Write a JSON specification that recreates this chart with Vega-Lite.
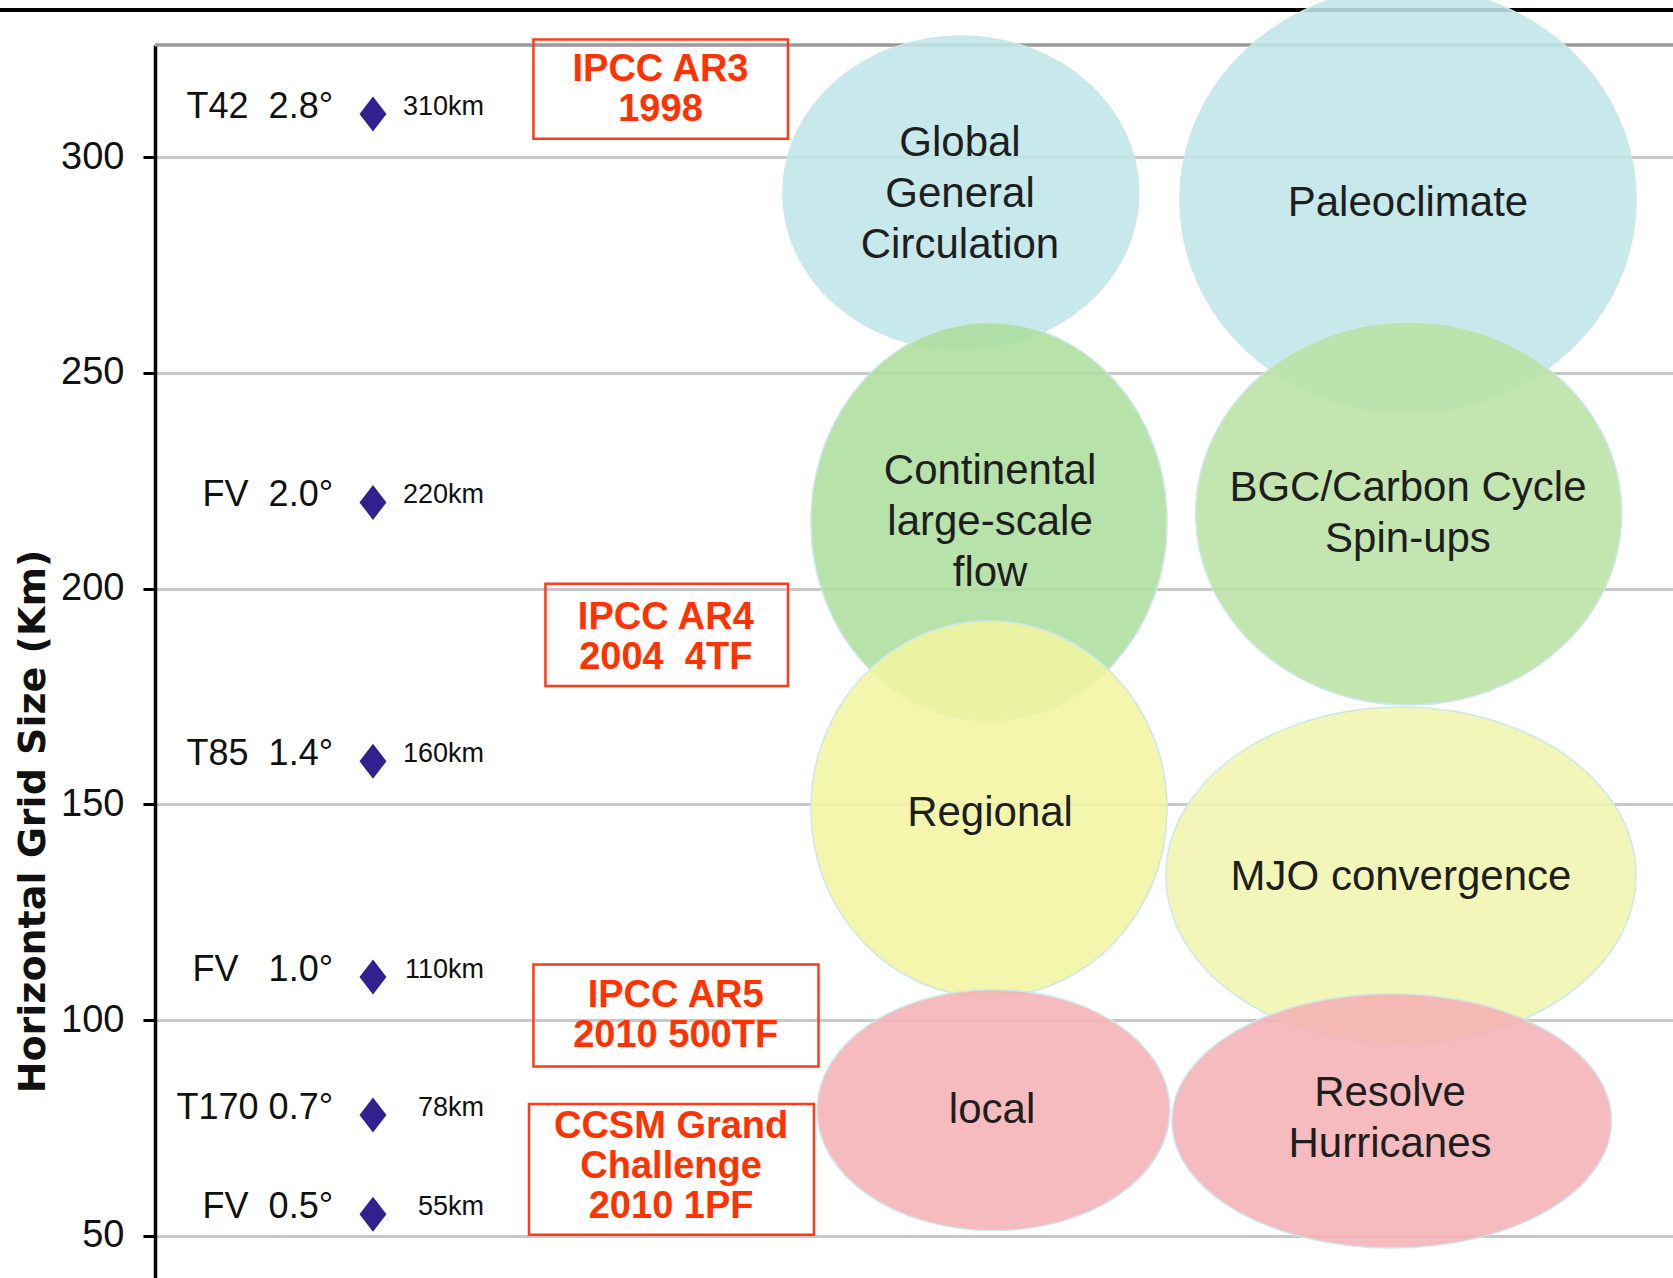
{
  "$schema": "https://vega.github.io/schema/vega-lite/v6.json",
  "width": 1518,
  "height": 1233,
  "autosize": {"type": "none"},
  "padding": {"left": 155, "top": 45, "right": 0, "bottom": 0},
  "background": "white",
  "config": {
    "view": {"stroke": null},
    "axisY": {
      "domainColor": "#000000",
      "domainWidth": 3.5,
      "tickColor": "#000000",
      "tickWidth": 3,
      "tickSize": 12,
      "labelFont": "Liberation Sans, Arial, sans-serif",
      "labelFontSize": 38,
      "labelColor": "#111111",
      "labelPadding": 19,
      "gridColor": "#c8c8c8",
      "gridWidth": 3,
      "titleFont": "DejaVu Sans",
      "titleFontWeight": "bold",
      "titleFontSize": 38,
      "titleColor": "#111111",
      "titleAngle": 270,
      "titleAlign": "center",
      "titleBaseline": "middle",
      "titleX": -122,
      "titleY": 776
    }
  },
  "datasets": {
    "models": [
      {"grid": "T42\u00a0 2.8°", "km": 310, "kmText": "310km"},
      {"grid": "FV\u00a0 2.0°", "km": 220, "kmText": "220km"},
      {"grid": "T85\u00a0 1.4°", "km": 160, "kmText": "160km"},
      {"grid": "FV\u00a0\u00a0 1.0°", "km": 110, "kmText": "110km"},
      {"grid": "T170 0.7°", "km": 78, "kmText": "78km"},
      {"grid": "FV\u00a0 0.5°", "km": 55, "kmText": "55km"},
      {"grid": "T340 .36°", "km": 30, "kmText": "30km"}
    ],
    "milestones": [
      {"label": "IPCC AR3\n1998", "x0": 24.93, "x1": 41.70, "kmTop": 327.25, "kmBottom": 304.26, "xMid": 33.30, "kmMid": 315.6},
      {"label": "IPCC AR4\n2004\u00a0 4TF", "x0": 25.72, "x1": 41.70, "kmTop": 201.16, "kmBottom": 177.45, "xMid": 33.65, "kmMid": 188.6},
      {"label": "IPCC AR5\n2010 500TF", "x0": 24.93, "x1": 43.71, "kmTop": 112.91, "kmBottom": 89.27, "xMid": 34.30, "kmMid": 100.9},
      {"label": "CCSM Grand\nChallenge\n2010 1PF", "x0": 24.64, "x1": 43.41, "kmTop": 80.58, "kmBottom": 50.29, "xMid": 34.00, "kmMid": 66.0}
    ],
    "zones": [
      {"zone": "Global General Circulation", "label": "Global\nGeneral\nCirculation", "xMid": 53.03, "kmMid": 291.5},
      {"zone": "Paleoclimate", "label": "Paleoclimate", "xMid": 82.54, "kmMid": 289.4},
      {"zone": "Continental large-scale flow", "label": "Continental\nlarge-scale\nflow", "xMid": 55.01, "kmMid": 215.5},
      {"zone": "BGC/Carbon Cycle Spin-ups", "label": "BGC/Carbon Cycle\nSpin-ups", "xMid": 82.54, "kmMid": 217.5},
      {"zone": "Regional", "label": "Regional", "xMid": 55.01, "kmMid": 148.0},
      {"zone": "MJO convergence", "label": "MJO convergence", "xMid": 82.08, "kmMid": 133.2},
      {"zone": "local", "label": "local", "xMid": 55.14, "kmMid": 79.3},
      {"zone": "Resolve Hurricanes", "label": "Resolve\nHurricanes", "xMid": 81.36, "kmMid": 77.3}
    ],
    "outlines": [
      {"zone": "Global General Circulation", "k": 1, "x": 41.36, "km": 291.71},
      {"zone": "Global General Circulation", "k": 2, "x": 53.09, "km": 328.09},
      {"zone": "Global General Circulation", "k": 3, "x": 64.81, "km": 291.71},
      {"zone": "Global General Circulation", "k": 4, "x": 53.09, "km": 255.32},
      {"zone": "Paleoclimate", "k": 1, "x": 67.52, "km": 290.08},
      {"zone": "Paleoclimate", "k": 2, "x": 82.54, "km": 339.44},
      {"zone": "Paleoclimate", "k": 3, "x": 97.56, "km": 290.08},
      {"zone": "Paleoclimate", "k": 4, "x": 82.54, "km": 240.72},
      {"zone": "Continental large-scale flow", "k": 1, "x": 43.21, "km": 215.53},
      {"zone": "Continental large-scale flow", "k": 2, "x": 54.94, "km": 261.71},
      {"zone": "Continental large-scale flow", "k": 3, "x": 66.67, "km": 215.53},
      {"zone": "Continental large-scale flow", "k": 4, "x": 54.94, "km": 169.34},
      {"zone": "BGC/Carbon Cycle Spin-ups", "k": 1, "x": 68.56, "km": 217.43},
      {"zone": "BGC/Carbon Cycle Spin-ups", "k": 2, "x": 82.59, "km": 261.81},
      {"zone": "BGC/Carbon Cycle Spin-ups", "k": 3, "x": 96.62, "km": 217.43},
      {"zone": "BGC/Carbon Cycle Spin-ups", "k": 4, "x": 82.59, "km": 173.05},
      {"zone": "Regional", "k": 1, "x": 43.21, "km": 148.94},
      {"zone": "Regional", "k": 2, "x": 54.94, "km": 192.51},
      {"zone": "Regional", "k": 3, "x": 66.67, "km": 148.94},
      {"zone": "Regional", "k": 4, "x": 54.94, "km": 105.37},
      {"zone": "MJO convergence", "k": 1, "x": 66.60, "km": 133.53},
      {"zone": "MJO convergence", "k": 2, "x": 82.08, "km": 172.58},
      {"zone": "MJO convergence", "k": 3, "x": 97.56, "km": 133.53},
      {"zone": "MJO convergence", "k": 4, "x": 82.08, "km": 94.48},
      {"zone": "local", "k": 1, "x": 43.61, "km": 79.16},
      {"zone": "local", "k": 2, "x": 55.24, "km": 107.07},
      {"zone": "local", "k": 3, "x": 66.86, "km": 79.16},
      {"zone": "local", "k": 4, "x": 55.24, "km": 51.24},
      {"zone": "Resolve Hurricanes", "k": 1, "x": 66.99, "km": 76.68},
      {"zone": "Resolve Hurricanes", "k": 2, "x": 81.47, "km": 106.15},
      {"zone": "Resolve Hurricanes", "k": 3, "x": 95.95, "km": 76.68},
      {"zone": "Resolve Hurricanes", "k": 4, "x": 81.47, "km": 47.21}
    ]
  },
  "layer": [
    {
      "data": {"values": [{}]},
      "mark": {"type": "rule", "color": "#000000", "strokeWidth": 4},
      "encoding": {
        "x": {"datum": -10.21, "type": "quantitative", "scale": {"domain": [0, 100], "nice": false, "zero": false}, "axis": null},
        "x2": {"datum": 100},
        "y": {
          "datum": 334.1,
          "type": "quantitative",
          "scale": {"domain": [40.25, 326], "nice": false, "zero": false},
          "axis": {"title": "Horizontal Grid Size (Km)", "values": [50, 100, 150, 200, 250, 300], "grid": true}
        }
      }
    },
    {
      "data": {"values": [{}]},
      "mark": {"type": "rule", "color": "#9a9a9a", "strokeWidth": 3.5},
      "encoding": {
        "y": {"datum": 326, "type": "quantitative", "scale": {"domain": [40.25, 326], "nice": false, "zero": false}}
      }
    },
    {
      "data": {"name": "outlines"},
      "mark": {
        "type": "line",
        "interpolate": "cardinal-closed",
        "tension": -0.657,
        "filled": true,
        "fillOpacity": 0.88,
        "stroke": "#cde7ea",
        "strokeWidth": 1.5
      },
      "encoding": {
        "x": {"field": "x", "type": "quantitative", "scale": {"domain": [0, 100], "nice": false, "zero": false}, "axis": null},
        "y": {"field": "km", "type": "quantitative", "scale": {"domain": [40.25, 326], "nice": false, "zero": false}},
        "order": {"field": "k", "type": "quantitative"},
        "color": {
          "field": "zone",
          "type": "nominal",
          "scale": {
            "domain": ["Global General Circulation", "Paleoclimate", "Continental large-scale flow", "BGC/Carbon Cycle Spin-ups", "Regional", "MJO convergence", "local", "Resolve Hurricanes"],
            "range": ["#bfe6e8", "#bfe6e8", "#adde9e", "#bbe1a5", "#f1f5a0", "#f1f5af", "#f5b2b5", "#f5b2b5"]
          },
          "legend": null
        }
      }
    },
    {
      "data": {"name": "zones"},
      "mark": {
        "type": "text",
        "font": "Liberation Sans, Arial, sans-serif",
        "fontSize": 42,
        "lineHeight": 51,
        "lineBreak": "\n",
        "align": "center",
        "baseline": "middle",
        "dy": {"expr": "-(length(split(datum.label, '\\n')) - 1) * 25.5"},
        "color": "#1e1e1e"
      },
      "encoding": {
        "x": {"field": "xMid", "type": "quantitative", "scale": {"domain": [0, 100], "nice": false, "zero": false}, "axis": null},
        "y": {"field": "kmMid", "type": "quantitative", "scale": {"domain": [40.25, 326], "nice": false, "zero": false}},
        "text": {"field": "label"}
      }
    },
    {
      "data": {"name": "milestones"},
      "mark": {"type": "rect", "filled": false, "color": "#ff3b1a", "strokeWidth": 2.5},
      "encoding": {
        "x": {"field": "x0", "type": "quantitative", "scale": {"domain": [0, 100], "nice": false, "zero": false}, "axis": null},
        "x2": {"field": "x1"},
        "y": {"field": "kmTop", "type": "quantitative", "scale": {"domain": [40.25, 326], "nice": false, "zero": false}},
        "y2": {"field": "kmBottom"}
      }
    },
    {
      "data": {"name": "milestones"},
      "mark": {
        "type": "text",
        "font": "Liberation Sans, Arial, sans-serif",
        "fontWeight": "bold",
        "fontSize": 38,
        "lineHeight": 40,
        "lineBreak": "\n",
        "align": "center",
        "baseline": "middle",
        "dy": {"expr": "-(length(split(datum.label, '\\n')) - 1) * 20"},
        "color": "#ff3300"
      },
      "encoding": {
        "x": {"field": "xMid", "type": "quantitative", "scale": {"domain": [0, 100], "nice": false, "zero": false}, "axis": null},
        "y": {"field": "kmMid", "type": "quantitative", "scale": {"domain": [40.25, 326], "nice": false, "zero": false}},
        "text": {"field": "label"}
      }
    },
    {
      "data": {"name": "models"},
      "mark": {
        "type": "point",
        "shape": "M0,-1L0.77,0L0,1L-0.77,0Z",
        "filled": true,
        "size": 1225,
        "color": "#31218f",
        "opacity": 1
      },
      "encoding": {
        "x": {"datum": 14.36, "type": "quantitative", "scale": {"domain": [0, 100], "nice": false, "zero": false}, "axis": null},
        "y": {"field": "km", "type": "quantitative", "scale": {"domain": [40.25, 326], "nice": false, "zero": false}}
      }
    },
    {
      "data": {"name": "models"},
      "mark": {
        "type": "text",
        "font": "Liberation Sans, Arial, sans-serif",
        "fontSize": 36,
        "align": "right",
        "baseline": "middle",
        "dy": -7,
        "color": "#111111"
      },
      "encoding": {
        "x": {"datum": 11.73, "type": "quantitative", "scale": {"domain": [0, 100], "nice": false, "zero": false}, "axis": null},
        "y": {"field": "km", "type": "quantitative", "scale": {"domain": [40.25, 326], "nice": false, "zero": false}},
        "text": {"field": "grid"}
      }
    },
    {
      "data": {"name": "models"},
      "mark": {
        "type": "text",
        "font": "Liberation Sans, Arial, sans-serif",
        "fontSize": 27,
        "align": "right",
        "baseline": "middle",
        "dy": -7,
        "color": "#111111"
      },
      "encoding": {
        "x": {"datum": 21.67, "type": "quantitative", "scale": {"domain": [0, 100], "nice": false, "zero": false}, "axis": null},
        "y": {"field": "km", "type": "quantitative", "scale": {"domain": [40.25, 326], "nice": false, "zero": false}},
        "text": {"field": "kmText"}
      }
    }
  ]
}
